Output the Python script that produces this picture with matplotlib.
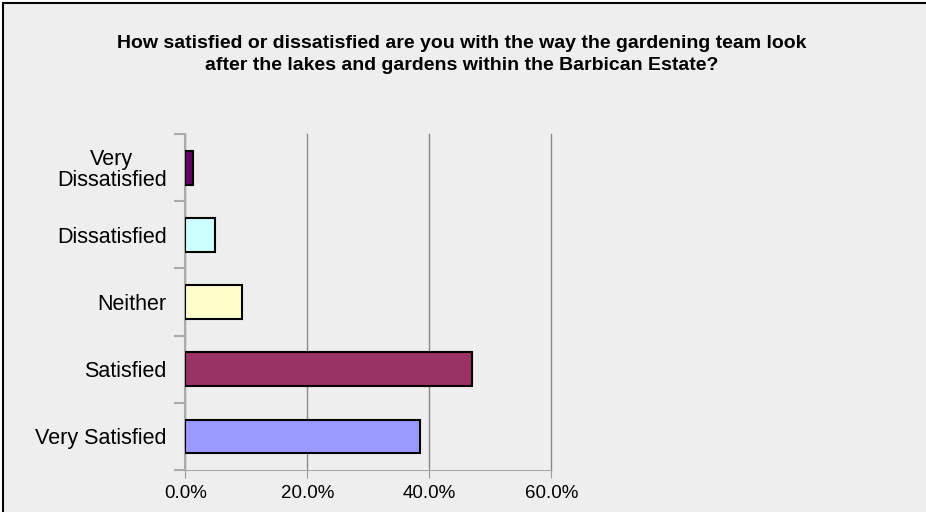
from matplotlib import pyplot as plt
from matplotlib.patches import Rectangle

categories = ['Very Satisfied', 'Satisfied', 'Neither', 'Dissatisfied', 'Very\nDissatisfied']
shares = [38.5, 47.0, 9.3, 4.8, 1.2]
colors = ['#9999FF', '#993366', '#FFFFCC', '#CCFFFF', '#660066']
x_ticks = [0, 20, 40, 60]

title_lines = ["How satisfied or dissatisfied are you with the way the gardening team look",
               "after the lakes and gardens within the Barbican Estate?"]


def main():
    plt.rcParams['font.family'] = ['Liberation Sans', 'DejaVu Sans']

    fig = plt.figure(figsize=(9.26, 5.12), dpi=100, facecolor='white')

    # grey chart area with a black outline (only top/left edges fall inside the image)
    fig.add_artist(Rectangle((3 / 926, -0.2), 1.2, 1.2 - 3 / 512 + 0.0,
                             transform=fig.transFigure, facecolor='#EEEEEE',
                             edgecolor='black', linewidth=1.5, zorder=-10))

    ax = fig.add_axes([0.2001, 0.082, 0.3953, 0.656])
    ax.set_facecolor('#EEEEEE')

    fig.text(0.499, 1 - 48 / 512, title_lines[0], ha='center', va='baseline',
             fontsize=14, fontweight='bold')
    fig.text(0.499, 1 - 70 / 512, title_lines[1], ha='center', va='baseline',
             fontsize=14, fontweight='bold')

    y = list(range(len(categories)))
    ax.barh(y, shares, height=0.5, color=colors, edgecolor='black',
            linewidth=1.5, zorder=3)

    ax.set_xlim(0, 60)
    ax.set_ylim(-0.5, len(categories) - 0.5)
    ax.set_xticks(x_ticks)
    ax.set_xticklabels([f'{t:.1f}%' for t in x_ticks], fontsize=13.5)
    ax.set_yticks(y)
    ax.set_yticklabels(categories, fontsize=15.5, multialignment='center',
                       linespacing=1.0)
    ax.tick_params(axis='y', length=0, pad=13.5)
    ax.tick_params(axis='x', length=6, color='#999999', pad=5)

    # category separators on the y axis
    ax.set_yticks([i - 0.5 for i in range(len(categories) + 1)], minor=True)
    ax.tick_params(axis='y', which='minor', length=8, color='#AAAAAA', width=1.5)

    ax.grid(True, axis='x', color='#888888', linewidth=1, zorder=0)
    for gl in ax.get_xgridlines():
        gl.set_clip_on(False)
    for side in ['top', 'right']:
        ax.spines[side].set_visible(False)
    ax.spines['left'].set_color('#AAAAAA')
    ax.spines['left'].set_linewidth(1.5)
    ax.spines['bottom'].set_color('#AAAAAA')

    plt.savefig('out.png', dpi=100, facecolor=fig.get_facecolor())


if __name__ == "__main__":
    main()
